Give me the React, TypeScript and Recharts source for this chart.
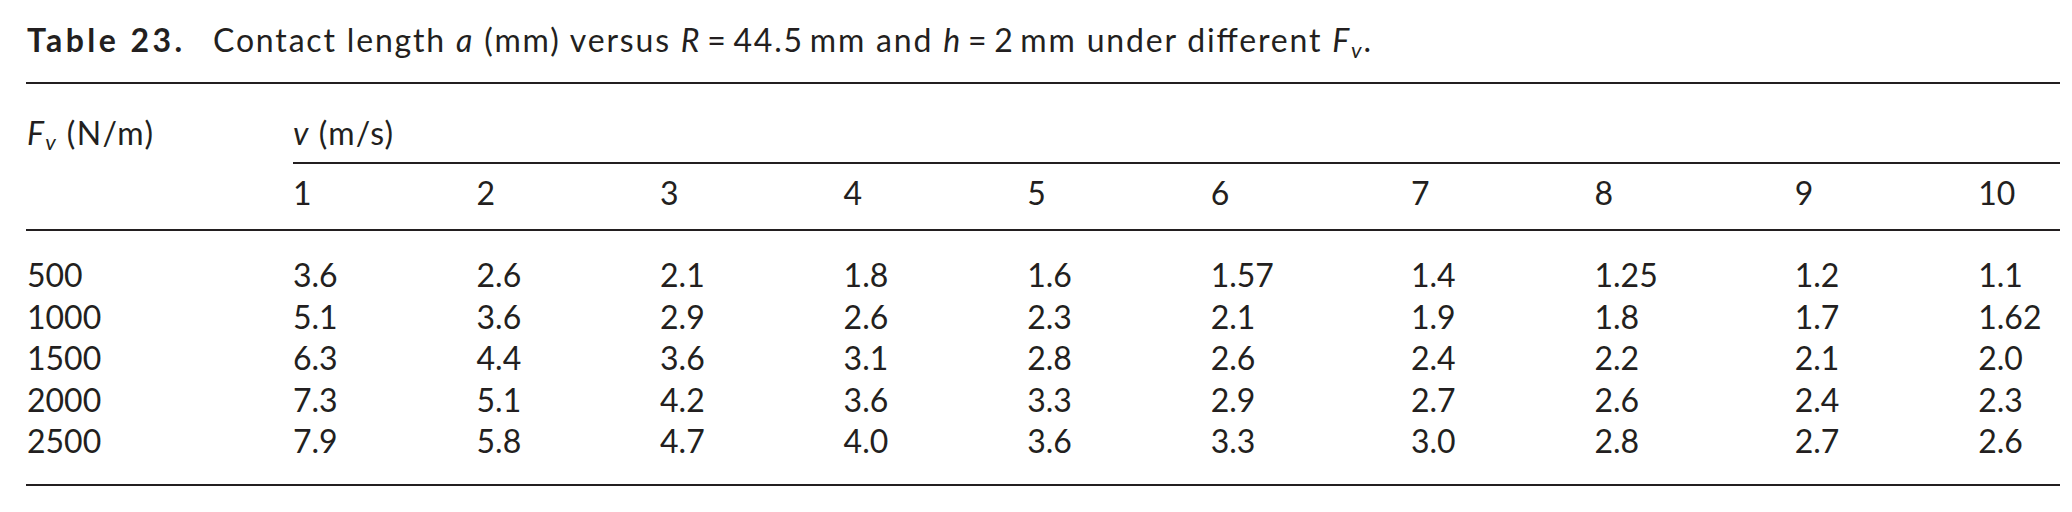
import React from "react";
import {
  ScatterChart,
  Scatter,
  XAxis,
  YAxis,
  Customized,
} from "recharts";

// Table 23 — contact length a (mm), R = 44.5 mm, h = 2 mm.
// Rows are Fv (N/m), columns are v (m/s).

const forces = ["500", "1000", "1500", "2000", "2500"];
const speeds = ["1", "2", "3", "4", "5", "6", "7", "8", "9", "10"];

const a500 = [3.6, 2.6, 2.1, 1.8, 1.6, 1.57, 1.4, 1.25, 1.2, 1.1];
const a1000 = [5.1, 3.6, 2.9, 2.6, 2.3, 2.1, 1.9, 1.8, 1.7, 1.62];
const a1500 = [6.3, 4.4, 3.6, 3.1, 2.8, 2.6, 2.4, 2.2, 2.1, 2.0];
const a2000 = [7.3, 5.1, 4.2, 3.6, 3.3, 2.9, 2.7, 2.6, 2.4, 2.3];
const a2500 = [7.9, 5.8, 4.7, 4.0, 3.6, 3.3, 3.0, 2.8, 2.7, 2.6];

const rows = [a500, a1000, a1500, a2000, a2500];

const FONT = "Lato, 'Noto Sans', sans-serif";
const INK = "#231f20";
const SIZE = 32;

const W = 2072;
const H = 512;

// column layout: each column is as wide as its longest entry plus a gap,
// like a typeset table — measured in "characters", mapped by the x scale
const GAP = 8;
const STUB = 8;

const fmt = (v: number) =>
  Math.abs(v * 10 - Math.round(v * 10)) < 1e-9 ? v.toFixed(1) : v.toFixed(2);

const colChars = speeds.map((s, c) =>
  Math.max(s.length, ...rows.map((r) => fmt(r[c]).length)),
);
const colPos: number[] = [];
colChars.forEach((_, c) => {
  colPos.push(c === 0 ? 0 : colPos[c - 1] + colChars[c - 1] + GAP);
});

const X_DOMAIN: [number, number] = [-(STUB + GAP), 105.9];

const cells = rows.flatMap((r, ri) =>
  r.map((v, c) => ({ x: colPos[c], y: ri, label: fmt(v) })),
);

const MARGIN = { top: 200, right: 12, bottom: 25, left: 0 };
const Y_AXIS_W = 26;

// same mapping the x axis uses, for the spanner rule above the headers
const xPx = (u: number) =>
  MARGIN.left +
  Y_AXIS_W +
  ((u - X_DOMAIN[0]) / (X_DOMAIN[1] - X_DOMAIN[0])) *
    (W - MARGIN.left - Y_AXIS_W - MARGIN.right);

function CellText(props: any) {
  const { cx, cy, payload } = props;
  return (
    <text x={cx} y={cy} fontFamily={FONT} fontSize={SIZE} fill={INK}>
      {payload.label}
    </text>
  );
}

function SpeedTick(props: any) {
  const { x, y, payload } = props;
  const i = colPos.indexOf(payload.value);
  return (
    <text x={x} y={y} fontFamily={FONT} fontSize={SIZE} fill={INK}>
      {speeds[i]}
    </text>
  );
}

function ForceTick(props: any) {
  const { x, y, payload } = props;
  return (
    <text x={x + 1} y={y} fontFamily={FONT} fontSize={SIZE} fill={INK}>
      {forces[payload.value]}
    </text>
  );
}

function Heading() {
  const left = Y_AXIS_W + 1;
  const spanX = 293;
  return (
    <g fontFamily={FONT} fontSize={SIZE} fill={INK} style={{ whiteSpace: "pre" }}>
      <text x={left} y={52} fontWeight="bold" textLength={155} lengthAdjust="spacing">
        Table 23.
      </text>
      <text x={213} y={52} textLength={1158} lengthAdjust="spacing">
        <tspan>Contact length </tspan>
        <tspan fontStyle="italic">a</tspan>
        <tspan> (mm) versus </tspan>
        <tspan fontStyle="italic">R</tspan>
        <tspan>{"\u2009=\u200944.5\u2009mm and "}</tspan>
        <tspan fontStyle="italic">h</tspan>
        <tspan>{"\u2009=\u20092\u2009mm under different "}</tspan>
        <tspan fontStyle="italic">F</tspan>
        <tspan fontStyle="italic" fontSize={22} dy={6}>
          v
        </tspan>
        <tspan dy={-6}>.</tspan>
      </text>
      <line x1={Y_AXIS_W} x2={W - MARGIN.right} y1={83} y2={83} stroke={INK} strokeWidth={2} />
      <text x={left} y={145} textLength={126} lengthAdjust="spacing">
        <tspan fontStyle="italic">F</tspan>
        <tspan fontStyle="italic" fontSize={22} dy={5}>
          v
        </tspan>
        <tspan dy={-5}> (N/m)</tspan>
      </text>
      <text x={spanX} y={145} textLength={100} lengthAdjust="spacing">
        <tspan fontStyle="italic">v</tspan>
        <tspan> (m/s)</tspan>
      </text>
      <line x1={spanX} x2={W - MARGIN.right} y1={163} y2={163} stroke={INK} strokeWidth={2} />
    </g>
  );
}

export default function App() {
  return (
    <div style={{ position: "absolute", left: 0, top: 0, background: "#fff" }}>
      <ScatterChart width={W} height={H} margin={MARGIN}>
        <XAxis
          xAxisId="top"
          orientation="top"
          type="number"
          dataKey="x"
          domain={X_DOMAIN}
          ticks={colPos}
          interval={0}
          height={30}
          tickSize={0}
          tickMargin={25}
          tickLine={false}
          axisLine={{ stroke: INK, strokeWidth: 2 }}
          tick={<SpeedTick />}
        />
        <XAxis
          xAxisId="bottom"
          orientation="bottom"
          type="number"
          domain={X_DOMAIN}
          height={2}
          tick={false}
          tickLine={false}
          axisLine={{ stroke: INK, strokeWidth: 2 }}
        />
        <YAxis
          type="number"
          dataKey="y"
          domain={[0, 4]}
          reversed
          ticks={[0, 1, 2, 3, 4]}
          interval={0}
          width={Y_AXIS_W}
          padding={{ top: 57, bottom: 32 }}
          tickSize={0}
          tickMargin={0}
          tickLine={false}
          axisLine={false}
          tick={<ForceTick />}
        />
        <Scatter
          xAxisId="top"
          data={cells}
          shape={<CellText />}
          isAnimationActive={false}
        />
        <Customized component={<Heading />} />
      </ScatterChart>
    </div>
  );
}
